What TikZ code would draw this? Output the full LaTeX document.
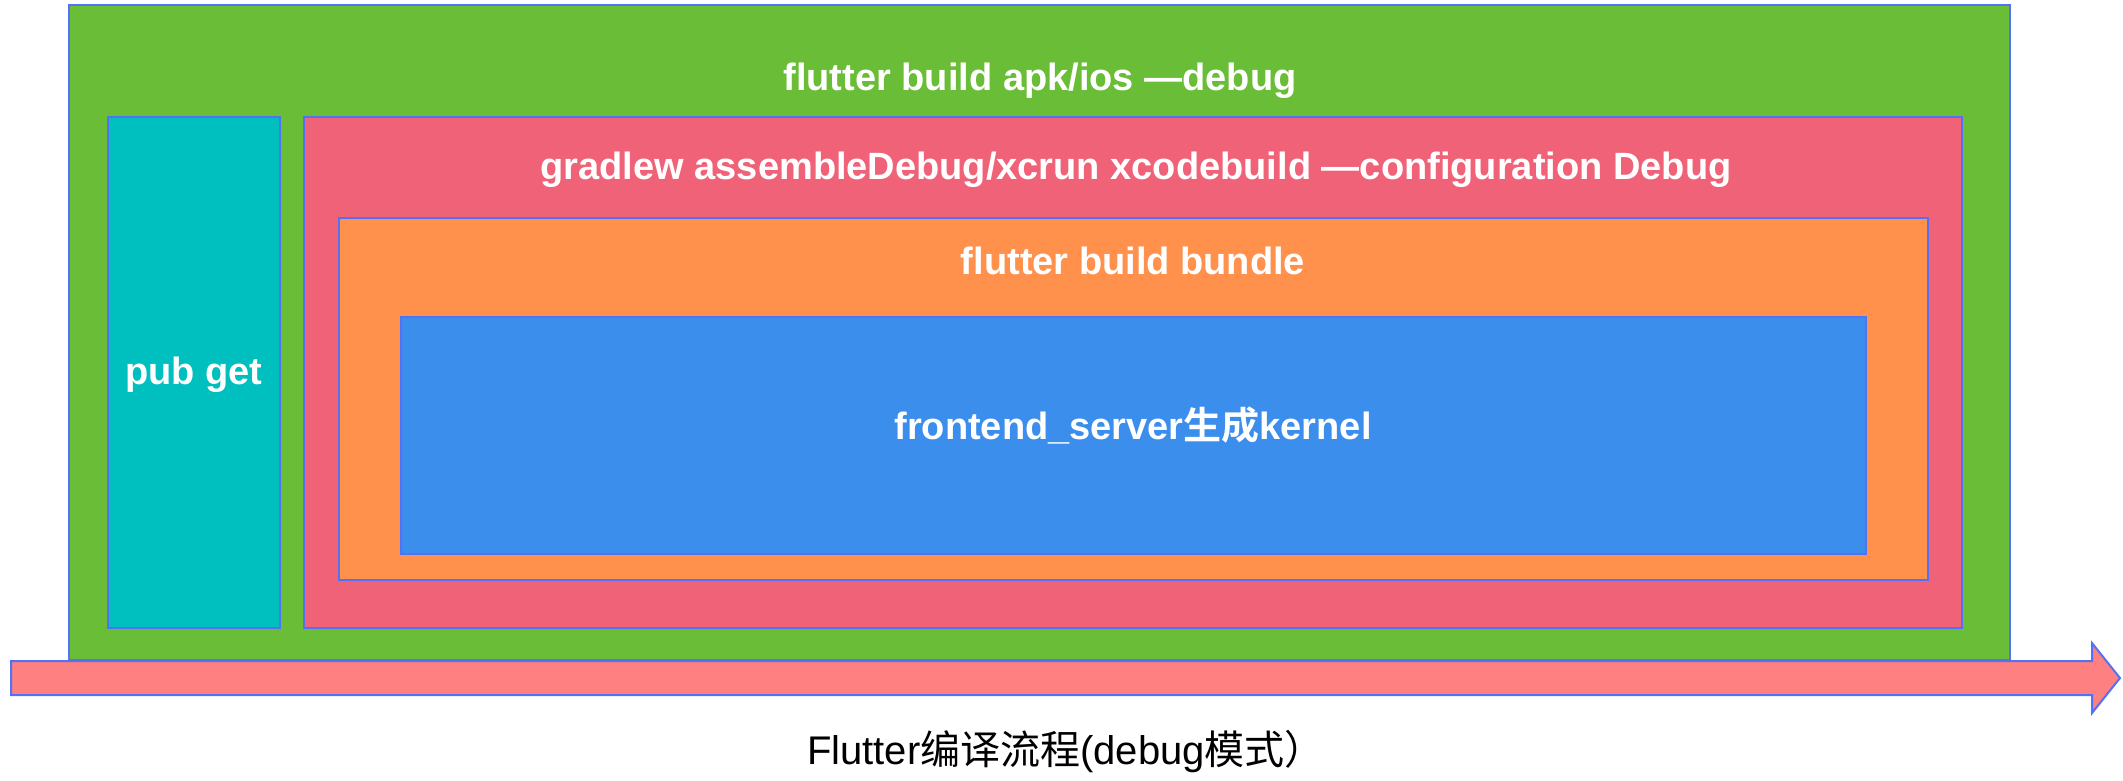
\documentclass[tikz,border=0pt]{standalone}
\usepackage{fontspec}
\setmainfont{Liberation Sans}
\newfontfamily\cjk{Noto Sans CJK SC}[BoldFont={Noto Sans CJK SC Bold}]
\definecolor{edge}{HTML}{5470F5}
\definecolor{apkgreen}{HTML}{6ABD36}
\definecolor{pubcyan}{HTML}{00BFBF}
\definecolor{gradlered}{HTML}{F06277}
\definecolor{bundleorange}{HTML}{FF914D}
\definecolor{kernelblue}{HTML}{3C8EEC}
\definecolor{flowred}{HTML}{FF8080}

\begin{document}
\begin{tikzpicture}[x=1pt,y=-1pt,
    box/.style={draw=edge,line width=2pt},
    lbl/.style={text=white,font=\fontsize{38}{44}\selectfont\bfseries}]
  \useasboundingbox (0,0) rectangle (2123,780);
  % nested build steps
  \draw[box,fill=apkgreen] (69,5) rectangle (2010,660);
  \node[lbl] (apk) at (1040,81) {flutter build apk/ios —debug};
  \draw[box,fill=pubcyan] (108,117) rectangle (280,628);
  \node[lbl] (pub) at (194,375) {pub get};
  \draw[box,fill=gradlered] (304,117) rectangle (1962,628);
  \node[lbl] (gradle) at (1136,170) {gradlew assembleDebug/xcrun xcodebuild —configuration Debug};
  \draw[box,fill=bundleorange] (339,218) rectangle (1928,580);
  \node[lbl] (bundle) at (1133,261) {flutter build bundle};
  \draw[box,fill=kernelblue] (401,317) rectangle (1866,554);
  \node[lbl] (kernel) at (1133,425) {frontend\_server{\cjk 生成}kernel};
  % time line
  \draw[box,fill=flowred] (11,661) -- (2092,661) -- (2092,643) -- (2120,678)
    -- (2092,713) -- (2092,695) -- (11,695) -- cycle;
  \node[font=\fontsize{40}{46}\selectfont] (flow) at (1066,752)
    {Flutter{\cjk 编译流程}(debug{\cjk 模式）}};
\end{tikzpicture}
\end{document}
